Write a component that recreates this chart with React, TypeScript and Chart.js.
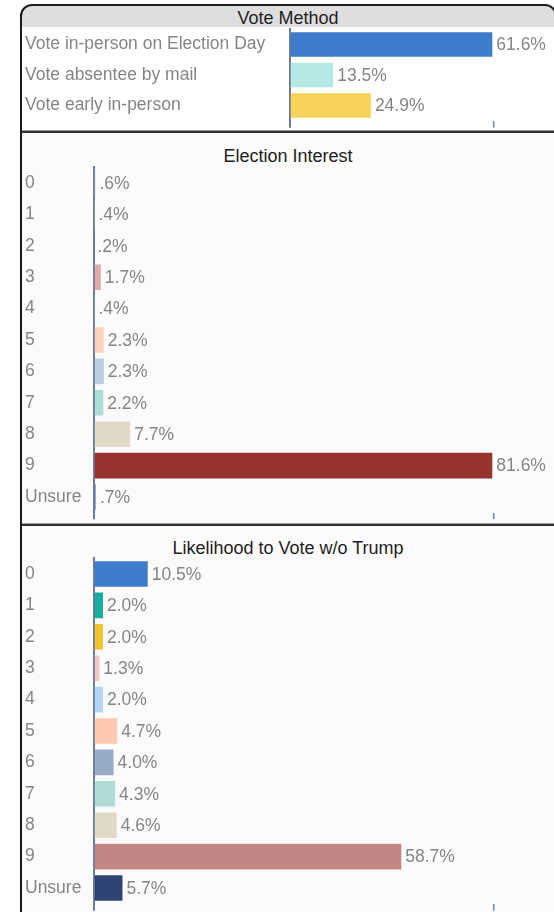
import React, { useEffect, useRef } from "react";
import { Chart, registerables } from "chart.js";

Chart.register(...registerables);

const FONT = 'Arial, "Liberation Sans", sans-serif';

const methodTitle = "Vote Method";
const methodCategories = ["Vote in-person on Election Day", "Vote absentee by mail", "Vote early in-person"];
const methodValues = [61.6, 13.5, 24.9];
const methodColors = ["#3d7bcb", "#b5e9e5", "#f6d45c"];
const methodAxisMax = 61.6;

const interestTitle = "Election Interest";
const interestCategories = ["0", "1", "2", "3", "4", "5", "6", "7", "8", "9", "Unsure"];
const interestValues = [0.6, 0.4, 0.2, 1.7, 0.4, 2.3, 2.3, 2.2, 7.7, 81.6, 0.7];
const interestColors = ["#c9d6ea", "#b8e3dc", "#f5e2a8", "#e2aaa8", "#cfdff5", "#fdd3c0", "#bccde0", "#acdcd4", "#e0d9c8", "#96332e", "#8d9dc0"];
const interestAxisMax = 81.6;

const likelihoodTitle = "Likelihood to Vote w/o Trump";
const likelihoodCategories = ["0", "1", "2", "3", "4", "5", "6", "7", "8", "9", "Unsure"];
const likelihoodValues = [10.5, 2.0, 2.0, 1.3, 2.0, 4.7, 4.0, 4.3, 4.6, 58.7, 5.7];
const likelihoodColors = ["#3d7bcb", "#14ae9e", "#f3c22c", "#f2c8c6", "#b3d3f8", "#fdc9b1", "#97abc7", "#b0dcd6", "#e1dac9", "#c28784", "#2c4373"];
const likelihoodAxisMax = 76;

const AXIS_COLOR = "#6b7c93";
const LABEL_COLOR = "#858585";

const fmt = (v: number) => (v < 1 ? v.toFixed(1).replace(/^0/, "") : v.toFixed(1)) + "%";

const valueLabelPlugin = {
  id: "valueLabels",
  afterDatasetsDraw(chart: any) {
    const ctx = chart.ctx;
    const meta = chart.getDatasetMeta(0);
    const data = chart.data.datasets[0].data as number[];
    ctx.save();
    ctx.font = `17.5px ${FONT}`;
    ctx.fillStyle = LABEL_COLOR;
    ctx.textAlign = "left";
    ctx.textBaseline = "middle";
    meta.data.forEach((el: any, i: number) => {
      ctx.fillText(fmt(data[i]), el.x + 3, el.y + 1);
    });
    ctx.restore();
  },
};

type PanelProps = {
  categories: string[];
  values: number[];
  colors: string[];
  axisMax: number;
  left: number;
  top: number;
  width: number;
  height: number;
  pad: { top: number; bottom: number; left: number; right: number };
  axisWidth: number;
  tickLength: number;
  barPercentage: number;
};

function BarPanel(p: PanelProps) {
  const ref = useRef<HTMLCanvasElement | null>(null);
  useEffect(() => {
    if (!ref.current) return;
    const chart = new Chart(ref.current, {
      type: "bar",
      data: {
        labels: p.categories,
        datasets: [
          {
            data: p.values,
            backgroundColor: p.colors,
            borderColor: "rgba(255,255,255,0.55)",
            borderWidth: 1,
            barPercentage: p.barPercentage,
            categoryPercentage: 1,
          },
        ],
      },
      options: {
        indexAxis: "y",
        animation: false,
        responsive: false,
        maintainAspectRatio: false,
        layout: { padding: p.pad },
        plugins: { legend: { display: false }, tooltip: { enabled: false }, title: { display: false } },
        scales: {
          y: {
            type: "category",
            position: "left",
            grid: { display: false },
            border: { display: true, color: AXIS_COLOR, width: 2 },
            ticks: {
              crossAlign: "far",
              padding: 0,
              color: LABEL_COLOR,
              font: { family: FONT, size: 17.5 },
            },
            afterFit: (scale: any) => {
              scale.width = p.axisWidth;
              scale.paddingTop = 0;
              scale.paddingBottom = 0;
            },
          },
          x: {
            type: "linear",
            position: "bottom",
            min: 0,
            max: p.axisMax,
            border: { display: false },
            ticks: { display: false },
            grid: {
              drawOnChartArea: false,
              drawTicks: true,
              tickLength: p.tickLength,
              color: (c: any) => (c.index === 0 ? AXIS_COLOR : "#7a869a"),
              lineWidth: (c: any) => (c.index === 0 ? 2 : 1.5),
            },
            afterBuildTicks: (axis: any) => {
              axis.ticks = [{ value: 0 }, { value: p.axisMax }];
            },
          },
        },
      },
      plugins: [valueLabelPlugin],
    } as any);
    return () => chart.destroy();
  }, []);
  return (
    <canvas
      ref={ref}
      width={p.width}
      height={p.height}
      style={{ position: "absolute", left: p.left, top: p.top, width: p.width, height: p.height }}
    />
  );
}

export default function App() {
  const titleStyle: React.CSSProperties = {
    position: "absolute",
    left: 22,
    width: 532,
    height: 20,
    lineHeight: "20px",
    textAlign: "center",
    fontFamily: FONT,
    fontSize: 18,
    color: "#1e1e1e",
  };
  return (
    <div
      style={{
        position: "fixed",
        left: 0,
        top: 0,
        width: 554,
        height: 912,
        overflow: "hidden",
        background: "#ffffff",
        fontFamily: FONT,
      }}
    >
      {/* header band */}
      <div
        style={{
          position: "absolute",
          left: 22,
          top: 6,
          width: 533,
          height: 21,
          background: "#dedede",
          borderRadius: "10px 10px 0 0",
        }}
      />
      <div style={{ ...titleStyle, top: 8 }}>{methodTitle}</div>

      {/* panel backgrounds */}
      <div style={{ position: "absolute", left: 22, top: 133, width: 540, height: 390, background: "#fbfbfb" }} />
      <div style={{ position: "absolute", left: 22, top: 526, width: 540, height: 400, background: "#fbfbfb" }} />

      {/* separators */}
      <div style={{ position: "absolute", left: 22, top: 130, width: 540, height: 1, background: "#9a9a9a" }} />
      <div style={{ position: "absolute", left: 22, top: 131, width: 540, height: 2, background: "#333333" }} />
      <div style={{ position: "absolute", left: 22, top: 523, width: 540, height: 1, background: "#9a9a9a" }} />
      <div style={{ position: "absolute", left: 22, top: 524, width: 540, height: 2, background: "#333333" }} />

      <div style={{ ...titleStyle, top: 146 }}>{interestTitle}</div>
      <div style={{ ...titleStyle, top: 538 }}>{likelihoodTitle}</div>

      <BarPanel
        categories={methodCategories}
        values={methodValues}
        colors={methodColors}
        axisMax={methodAxisMax}
        left={22}
        top={27}
        width={532}
        height={103}
        pad={{ top: 2.25, bottom: 2.25, left: 3, right: 60.7 }}
        axisWidth={264.5}
        tickLength={7}
        barPercentage={0.87}
      />
      <BarPanel
        categories={interestCategories}
        values={interestValues}
        colors={interestColors}
        axisMax={interestAxisMax}
        left={22}
        top={133}
        width={532}
        height={390}
        pad={{ top: 34.3, bottom: 3.8, left: 3, right: 60.7 }}
        axisWidth={68.5}
        tickLength={6.5}
        barPercentage={0.88}
      />
      <BarPanel
        categories={likelihoodCategories}
        values={likelihoodValues}
        colors={likelihoodColors}
        axisMax={likelihoodAxisMax}
        left={22}
        top={526}
        width={532}
        height={386}
        pad={{ top: 32.3, bottom: 1.3, left: 3, right: 60.7 }}
        axisWidth={68.5}
        tickLength={7}
        barPercentage={0.88}
      />

      {/* outer frame */}
      <div
        style={{
          position: "absolute",
          left: 20,
          top: 4,
          width: 537,
          height: 940,
          boxSizing: "border-box",
          border: "2px solid #1a1a1a",
          borderRadius: "12px 12px 0 0",
          pointerEvents: "none",
        }}
      />
    </div>
  );
}
